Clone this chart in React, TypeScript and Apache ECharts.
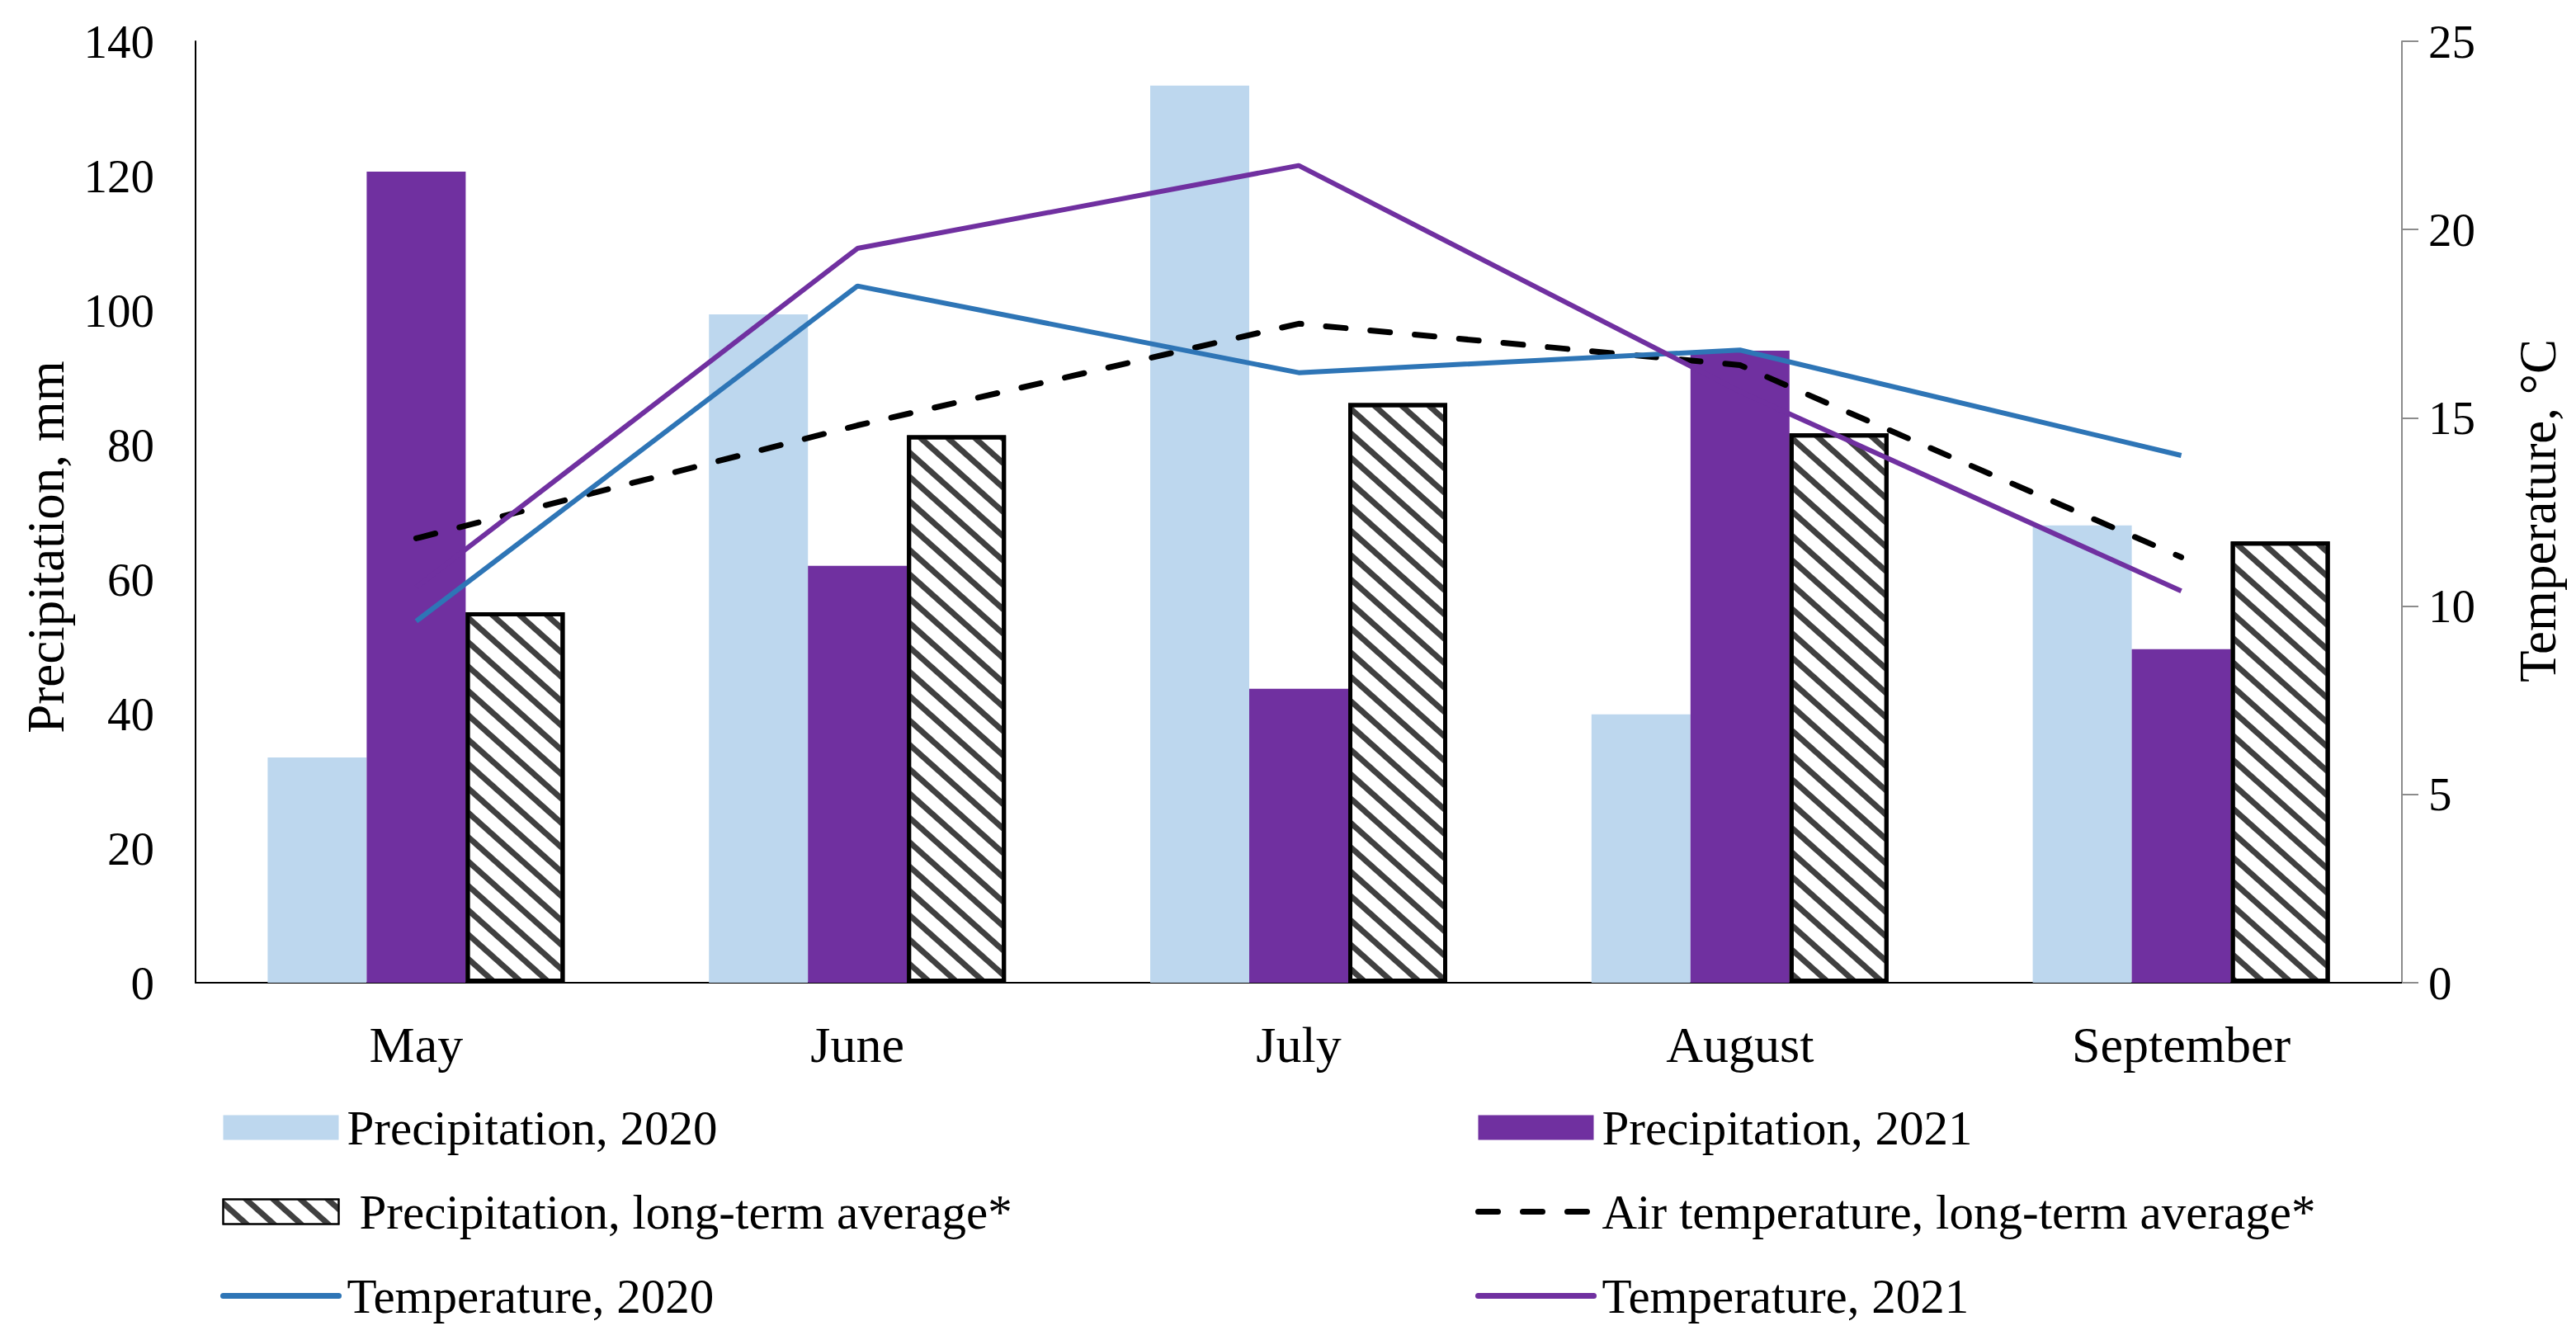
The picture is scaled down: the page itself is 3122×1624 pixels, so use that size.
import React, { useEffect, useRef } from "react";
import * as echarts from "echarts";

const months = ["May", "June", "July", "August", "September"];
const precip2020 = [33.5, 99.4, 133.4, 39.9, 68.0];
const precip2021 = [120.6, 62.0, 43.7, 94.0, 49.6];
const precipLTA = [55.1, 81.4, 86.2, 81.7, 65.6];
const temp2020 = [9.6, 18.5, 16.2, 16.8, 14.0];
const temp2021 = [10.5, 19.5, 21.7, 15.7, 10.4];
const airTempLTA = [11.8, 14.8, 17.5, 16.4, 11.3];

const FONT = "Liberation Serif";

export default function App() {
  const ref = useRef<HTMLDivElement>(null);
  useEffect(() => {
    if (!ref.current) return;
    const chart = echarts.init(ref.current, undefined, { renderer: "svg" });
    const legendText = { fontFamily: FONT, fontSize: 59, color: "#000", lineHeight: 58, padding: [0, 0, 0, 5] };
    const hiddenSymbol = { color: "rgba(0,0,0,0)", borderWidth: 0, opacity: 0 };
    const dashPattern = [24, 30];
    chart.setOption({
      animation: false,
      backgroundColor: "#fff",
      textStyle: { fontFamily: FONT },
      grid: { left: 237, right: 211, top: 50, bottom: 433, containLabel: false },
      xAxis: {
        type: "category",
        data: months,
        axisLine: { lineStyle: { color: "#000", width: 2 } },
        axisTick: { show: false },
        axisLabel: { fontFamily: FONT, fontSize: 62, color: "#000", margin: 44 },
      },
      yAxis: [
        {
          type: "value",
          min: 0,
          max: 140,
          interval: 20,
          position: "left",
          axisLine: { show: true, lineStyle: { color: "#000", width: 2 } },
          axisTick: { show: false },
          splitLine: { show: false },
          axisLabel: { fontFamily: FONT, fontSize: 57, color: "#000", margin: 50 },
        },
        {
          type: "value",
          min: 0,
          max: 25,
          interval: 5,
          position: "right",
          axisLine: { show: true, lineStyle: { color: "#8c8c8c", width: 2 } },
          axisTick: { show: true, length: 20, lineStyle: { color: "#8c8c8c", width: 2 } },
          splitLine: { show: false },
          axisLabel: { fontFamily: FONT, fontSize: 57, color: "#000", margin: 32 },
        },
      ],
      legend: [
        {
          orient: "vertical",
          left: 267,
          top: 1337,
          padding: 0,
          itemWidth: 140,
          itemHeight: 30,
          itemGap: 43,
          textStyle: legendText,
          data: [
            { name: "Precipitation, 2020", icon: "rect" },
            { name: "Precipitation, long-term average*", icon: "rect", textStyle: { padding: [0, 0, 0, 20] } },
            { name: "Temperature, 2020", itemStyle: hiddenSymbol, lineStyle: { width: 7, cap: "round" } },
          ],
        },
        {
          orient: "vertical",
          left: 1788,
          top: 1337,
          padding: 0,
          itemWidth: 140,
          itemHeight: 30,
          itemGap: 43,
          textStyle: legendText,
          data: [
            { name: "Precipitation, 2021", icon: "rect" },
            {
              name: "Air temperature, long-term average*",
              itemStyle: hiddenSymbol,
              lineStyle: { width: 7, type: dashPattern, cap: "round" },
            },
            { name: "Temperature, 2021", itemStyle: hiddenSymbol, lineStyle: { width: 7, cap: "round" } },
          ],
        },
      ],
      graphic: [
        {
          type: "text",
          x: 56,
          y: 663,
          rotation: Math.PI / 2,
          style: {
            text: "Precipitation, mm",
            fontFamily: FONT,
            fontSize: 63,
            fill: "#000",
            textAlign: "center",
            textVerticalAlign: "middle",
          },
        },
        {
          type: "text",
          x: 3076,
          y: 619,
          rotation: Math.PI / 2,
          style: {
            text: "Temperature, °C",
            fontFamily: FONT,
            fontSize: 63,
            fill: "#000",
            textAlign: "center",
            textVerticalAlign: "middle",
          },
        },
      ],
      series: [
        {
          name: "Precipitation, 2020",
          type: "bar",
          yAxisIndex: 0,
          data: precip2020,
          barWidth: 120,
          barGap: "0%",
          itemStyle: { color: "#BDD7EE" },
        },
        {
          name: "Precipitation, 2021",
          type: "bar",
          yAxisIndex: 0,
          data: precip2021,
          barWidth: 120,
          barGap: "0%",
          itemStyle: { color: "#7030A0" },
        },
        {
          name: "Precipitation, long-term average*",
          type: "bar",
          yAxisIndex: 0,
          data: precipLTA,
          barWidth: 120,
          barGap: "0%",
          itemStyle: {
            color: "#ffffff",
            borderColor: "#000",
            borderWidth: 5,
            decal: {
              symbol: "rect",
              symbolSize: 1,
              color: "#404040",
              dashArrayX: [1, 0],
              dashArrayY: [7, 15],
              rotation: 0.73,
            },
          },
        },
        {
          name: "Air temperature, long-term average*",
          type: "line",
          yAxisIndex: 1,
          data: airTempLTA,
          symbol: "none",
          z: 4,
          lineStyle: { color: "#000", width: 7, type: dashPattern, cap: "round" },
          itemStyle: { color: "#000" },
        },
        {
          name: "Temperature, 2020",
          type: "line",
          yAxisIndex: 1,
          data: temp2020,
          symbol: "none",
          z: 4,
          lineStyle: { color: "#2E75B6", width: 6 },
          itemStyle: { color: "#2E75B6" },
        },
        {
          name: "Temperature, 2021",
          type: "line",
          yAxisIndex: 1,
          data: temp2021,
          symbol: "none",
          z: 4,
          lineStyle: { color: "#7030A0", width: 6 },
          itemStyle: { color: "#7030A0" },
        },
      ],
    });
    return () => chart.dispose();
  }, []);
  return (
    <div
      ref={ref}
      style={{ position: "fixed", left: 0, top: 0, width: 3122, height: 1624, background: "#fff" }}
    />
  );
}
